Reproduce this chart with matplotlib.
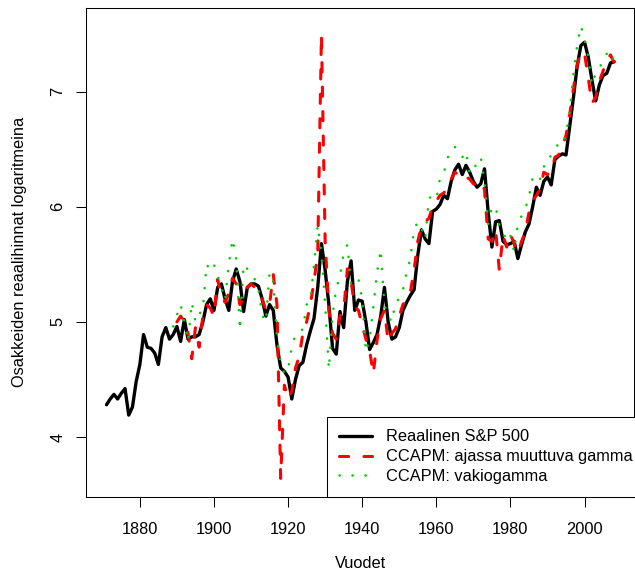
import numpy as np
import matplotlib
matplotlib.use("Agg")
import matplotlib.pyplot as plt

plt.rcParams['font.family'] = ['Liberation Sans', 'DejaVu Sans']

# ---- data ----
years_sp = list(range(1871, 2009))
sp500 = [4.28, 4.33, 4.37, 4.33, 4.38, 4.42, 4.19, 4.26, 4.48, 4.63,
         4.89, 4.78, 4.77, 4.73, 4.63, 4.87, 4.95, 4.85, 4.89, 4.96,
         4.83, 5.02, 4.85, 4.87, 4.87, 4.89, 5.00, 5.15, 5.20, 5.10,
         5.30, 5.33, 5.20, 5.10, 5.35, 5.46, 5.35, 5.09, 5.30, 5.33,
         5.33, 5.31, 5.20, 5.05, 5.15, 5.10, 4.80, 4.60, 4.57, 4.52,
         4.33, 4.50, 4.62, 4.65, 4.80, 4.92, 5.03, 5.30, 5.68, 5.45,
         5.15, 4.77, 4.72, 5.09, 4.95, 5.35, 5.53, 5.10, 5.19, 5.18,
         5.00, 4.76, 4.82, 4.89, 5.05, 5.30, 5.00, 4.85, 4.87, 4.95,
         5.10, 5.17, 5.23, 5.28, 5.58, 5.80, 5.72, 5.68, 5.96, 5.98,
         6.02, 6.10, 6.07, 6.22, 6.32, 6.37, 6.28, 6.36, 6.30, 6.22,
         6.17, 6.20, 6.33, 5.95, 5.65, 5.87, 5.88, 5.70, 5.67, 5.68,
         5.70, 5.55, 5.67, 5.78, 5.85, 6.00, 6.17, 6.10, 6.22, 6.26,
         6.19, 6.41, 6.44, 6.46, 6.45, 6.70, 6.95, 7.22, 7.40, 7.43,
         7.30, 7.10, 6.92, 7.06, 7.14, 7.16, 7.25, 7.26]

years_tv = list(range(1890, 2009))
ccapm_tv = [5.00, 5.05, 5.00, 4.90, 4.68, 4.95, 4.78, 5.05, 5.15, 5.12,
            5.05, 5.37, 5.22, 5.17, 5.25, 5.38, 5.33, 5.15, 5.20, 5.30,
            5.33, 5.30, 5.28, 5.20, 5.10, 5.15, 5.41, 5.15, 3.64, 4.45,
            4.33, 4.40, 4.60, 4.70, 4.90, 5.00, 5.15, 5.35, 5.60, 7.50,
            5.70, 5.10, 4.90, 4.85, 5.05, 5.10, 5.46, 5.35, 5.13, 5.10,
            4.97, 4.85, 4.75, 4.55, 4.84, 5.03, 5.10, 4.83, 4.90, 4.94,
            5.05, 5.15, 5.20, 5.26, 5.45, 5.70, 5.83, 5.87, 5.90, 6.00,
            6.05, 6.10, 6.12, 6.16, 6.24, 6.30, 6.28, 6.24, 6.26, 6.24,
            6.20, 6.19, 6.22, 6.15, 5.72, 5.70, 5.80, 5.45, 5.75, 5.65,
            5.76, 5.68, 5.60, 5.70, 5.78, 5.95, 6.05, 6.10, 6.15, 6.30,
            6.28, 6.30, 6.43, 6.45, 6.52, 6.62, 6.80, 7.03, 7.23, 7.35,
            7.33, 7.12, 6.90, 6.95, 7.09, 7.18, 7.27, 7.32, 7.25]

years_c = list(range(1889, 2009))
ccapm_c = [4.96, 5.06, 5.15, 5.00, 4.83, 5.17, 5.00, 5.07, 5.10, 5.50,
           5.45, 5.50, 5.40, 5.29, 5.19, 5.50, 5.72, 5.55, 4.93, 5.50,
           5.46, 5.42, 5.37, 5.29, 5.06, 5.00, 5.43, 5.35, 4.85, 4.65,
           4.55, 4.59, 4.78, 4.89, 4.90, 4.94, 5.15, 5.18, 5.50, 5.84,
           5.60, 5.15, 4.59, 5.06, 5.29, 5.40, 5.60, 5.67, 5.32, 5.35,
           5.37, 5.20, 4.74, 4.85, 5.13, 5.43, 5.63, 5.15, 5.05, 5.00,
           5.17, 5.20, 5.28, 5.43, 5.55, 5.80, 5.87, 5.81, 5.72, 6.08,
           6.08, 6.06, 6.25, 6.29, 6.42, 6.50, 6.52, 6.48, 6.43, 6.48,
           6.29, 6.30, 6.40, 6.43, 6.22, 5.85, 6.00, 6.00, 5.84, 5.78,
           5.70, 5.75, 5.61, 5.85, 5.92, 5.98, 6.09, 6.25, 6.28, 6.24,
           6.35, 6.36, 6.46, 6.50, 6.55, 6.54, 6.63, 6.83, 7.15, 7.40,
           7.57, 7.46, 7.30, 7.06, 7.16, 7.20, 7.28, 7.33, 7.26, 7.30]

labels = ["Reaalinen S&P 500", "CCAPM: ajassa muuttuva gamma", "CCAPM: vakiogamma"]
xticks = [1880, 1900, 1920, 1940, 1960, 1980, 2000]
yticks = [4, 5, 6, 7]

# ---- figure ----
W, H = 635, 574
fig = plt.figure(figsize=(W / 100, H / 100), dpi=100)
left, right, top, bottom = 86.2, 634.5, 8.0, 496.5
ax = fig.add_axes([left / W, 1 - bottom / H, (right - left) / W, (bottom - top) / H])

FS = 11.8
ax.plot(years_sp, sp500, color='black', lw=2.4, solid_joinstyle='round',
        solid_capstyle='round', label=labels[0], zorder=3)
ax.plot(years_tv, ccapm_tv, color='#FF0000', lw=2.2, linestyle=(0, (3, 5)),
        dash_capstyle='round', label=labels[1], zorder=4)
ax.plot(years_c, ccapm_c, color='#00CD00', lw=1.8, linestyle=(0, (0.1, 5.1)),
        dash_capstyle='round', label=labels[2], zorder=5)

allx = years_sp + years_tv + years_c
ally = sp500 + ccapm_tv + ccapm_c
x0, x1 = min(allx), max(allx)
y0, y1 = min(ally), max(ally)
dx, dy = (x1 - x0) * 0.04, (y1 - y0) * 0.04
ax.set_xlim(x0 - dx, x1 + dx)
ax.set_ylim(y0 - dy, y1 + dy)

ax.set_xticks(xticks)
ax.set_yticks(yticks)
ax.set_xticklabels([str(t) for t in xticks])
ax.set_yticklabels([str(t) for t in yticks])
ax.tick_params(direction='out', length=7.2, width=0.75, labelsize=FS)
ax.tick_params(axis='x', pad=11.0)
ax.tick_params(axis='y', pad=7.8)
plt.setp(ax.get_yticklabels(), rotation=90, va='center')
for s in ax.spines.values():
    s.set_linewidth(0.75)
    s.set_color('black')

fig.text(ax.get_position().x0 + ax.get_position().width / 2, 1 - 563 / H, "Vuodet",
         ha='center', va='center', fontsize=FS)
fig.text(20 / W, 1 - ((top + bottom) / 2) / H, "Osakkeiden reaalihinnat logaritmeina",
         ha='center', va='center', rotation=90, fontsize=FS)

leg = ax.legend(loc='lower left', bbox_to_anchor=(327 / W, 1 - bottom / H),
                bbox_transform=fig.transFigure, borderaxespad=0, fontsize=FS,
                frameon=True, fancybox=False, framealpha=1, edgecolor='black',
                handlelength=2.0, handletextpad=0.85, borderpad=0.75,
                labelspacing=0.3)
leg.get_frame().set_linewidth(0.75)
leg.set_zorder(10)

fig.savefig("out.png", dpi=100)
